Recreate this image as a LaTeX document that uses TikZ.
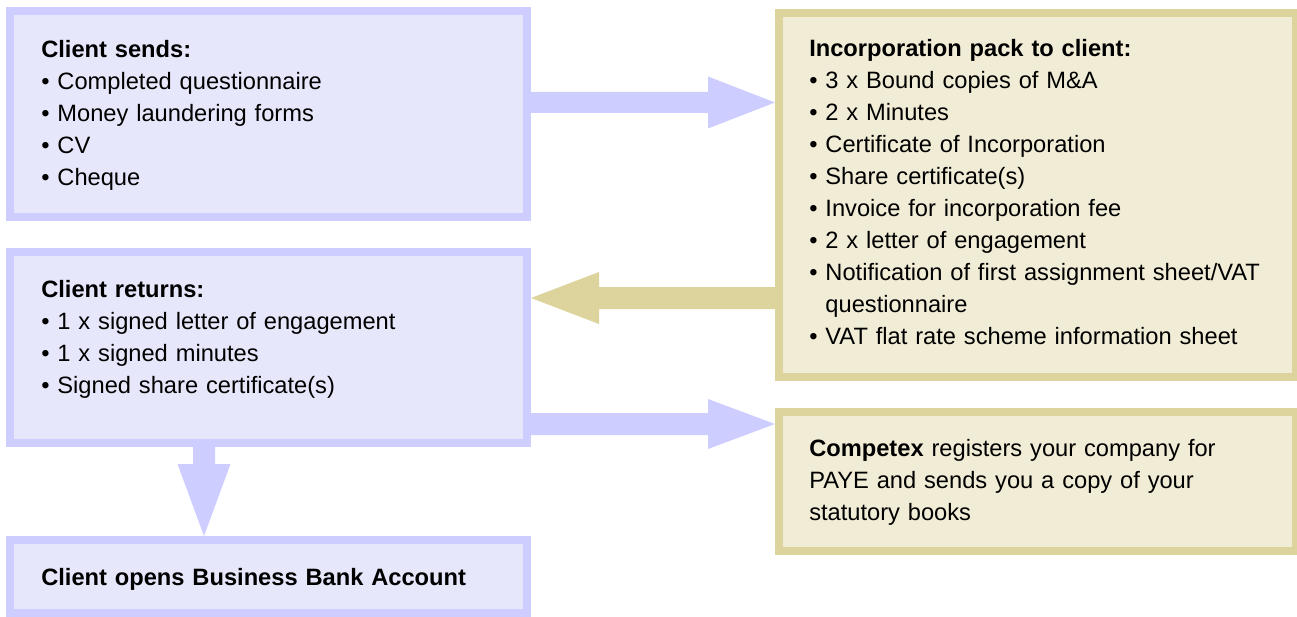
\documentclass[tikz,border=0pt]{standalone}
\usepackage{fontspec}
\setmainfont{Liberation Sans}
\usetikzlibrary{calc}

\definecolor{blueline}{RGB}{205,205,255}
\definecolor{bluefill}{RGB}{231,231,251}
\definecolor{tanline}{RGB}{220,212,156}
\definecolor{tanfill}{RGB}{241,236,213}

% block arrow: colour, start, tip, shaft half width, head half width, head length
\newcommand\blockarrow[6]{%
  \coordinate (hb) at ($(#3)!#6!(#2)$);
  \fill[#1] ($(#2)!#4!-90:(#3)$) -- ($(hb)!#4!-90:(#3)$) -- ($(hb)!#5!-90:(#3)$)
    -- (#3) -- ($(hb)!#5!90:(#3)$) -- ($(hb)!#4!90:(#3)$) -- ($(#2)!#4!90:(#3)$) -- cycle;
}

\begin{document}
\begin{tikzpicture}[x=0.75pt,y=-0.75pt,
  panel/.style={rectangle, line width=6pt, inner sep=0pt, minimum width=387.75pt},
  bluepanel/.style={panel, draw=blueline, fill=bluefill},
  tanpanel/.style={panel, draw=tanline, fill=tanfill},
  txt/.style={anchor=north west, inner sep=0pt, text width=352pt, align=left,
    font=\fontsize{17.75}{24}\selectfont}]
\useasboundingbox[fill=white] (0,0) rectangle (1297,617);

% panels
\node[bluepanel, minimum height=154.5pt]  (b1) at (268.5,114) {};
\node[bluepanel, minimum height=143.25pt] (b2) at (268.5,347.5) {};
\node[bluepanel, minimum height=54.75pt]  (b3) at (268.5,576.5) {};
\node[tanpanel,  minimum height=273pt]    (b4) at (1037.5,195) {};
\node[tanpanel,  minimum height=104.25pt] (b5) at (1037.5,481.5) {};

% panel texts
\node[txt] (t1) at (41,34.6) {\strut\textbf{Client sends:}\\
  • Completed questionnaire\\
  • Money laundering forms\\
  • CV\\
  • Cheque};
\node[txt] (t2) at (41,274.6) {\strut\textbf{Client returns:}\\
  • 1 x signed letter of engagement\\
  • 1 x signed minutes\\
  • Signed share certificate(s)};
\node[txt] (t3) at (41,562.6) {\strut\textbf{Client opens Business Bank Account}};
\node[txt] (t4) at (809,34.3) {\strut\textbf{Incorporation pack to client:}\\
  • 3 x Bound copies of M\&A\\
  • 2 x Minutes\\
  • Certificate of Incorporation\\
  • Share certificate(s)\\
  • Invoice for incorporation fee\\
  • 2 x letter of engagement\\
  • Notification of first assignment sheet/VAT\\
  \hphantom{•} questionnaire\\
  • VAT flat rate scheme information sheet};
\node[txt] (t5) at (809,434.3) {\strut\textbf{Competex} registers your company for\\
  PAYE and sends you a copy of your\\
  statutory books};

% arrow levels
\coordinate (y1) at (0,102.5);
\coordinate (y2) at (0,298);
\coordinate (y3) at (0,424);
\coordinate (x4) at (204,0);

\coordinate (a1s) at (b1.east |- y1);
\coordinate (a1e) at (b4.west |- y1);
\coordinate (a2s) at (b4.west |- y2);
\coordinate (a2e) at (b2.east |- y2);
\coordinate (a3s) at (b2.east |- y3);
\coordinate (a3e) at (b5.west |- y3);
\coordinate (a4s) at (x4 |- b2.south);
\coordinate (a4e) at (x4 |- b3.north);

\blockarrow{blueline}{a1s}{a1e}{7.875pt}{19.5pt}{50.25pt}
\blockarrow{tanline}{a2s}{a2e}{8.25pt}{19.5pt}{51pt}
\blockarrow{blueline}{a3s}{a3e}{8.25pt}{18.75pt}{50.25pt}
\blockarrow{blueline}{a4s}{a4e}{8.25pt}{19.875pt}{54pt}
\end{tikzpicture}
\end{document}
